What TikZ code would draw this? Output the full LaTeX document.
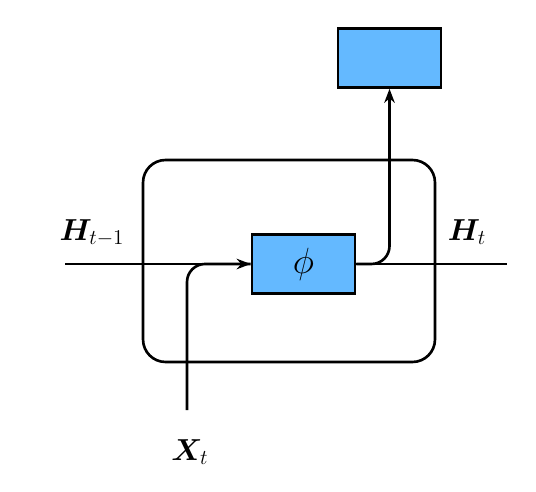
\documentclass[tikz,border=0pt]{standalone}
\usepackage{bm}
\usetikzlibrary{arrows.meta,positioning}
\definecolor{cellblue}{RGB}{100,185,255}

\begin{document}
\begin{tikzpicture}[
  x=0.02cm,
  y=-0.02cm,
  >={Stealth[length=8pt,width=6pt]},
  line width=1.5pt,
  cellbox/.style={draw, rounded corners=0.45cm, minimum width=5.84cm, minimum height=4.04cm, inner sep=0pt},
  layer/.style={draw, fill=cellblue, minimum width=2.06cm, minimum height=1.18cm, inner sep=0pt},
  lbl/.style={font=\fontsize{18}{21}\selectfont, inner sep=0pt},
  link/.style={line width=1.5pt}
]
  \useasboundingbox (0,0) rectangle (536,492);

  \node[cellbox] (cell) at (289,261) {};
  \node[layer] (phi) at (303.5,264) {\fontsize{20}{24}\selectfont$\phi$};
  \node[layer] (out) at (389.5,58) {};

  \coordinate (hin) at (65,264);
  \coordinate (hout) at (507,264);
  \coordinate (xin) at (187,410);

  \draw[link,->] (hin) -- (phi.west);
  \draw[link,rounded corners=0.36cm] (xin) |- (phi.west);
  \draw[link] (phi.east) -- (hout);
  \draw[link,->,rounded corners=0.36cm] (phi.east) -| (out.south);

  \node[lbl] (hprev) at (92,233) {$\bm{H}_{t-1}$};
  \node[lbl] (hnext) at (467,232) {$\bm{H}_{t}$};
  \node[lbl] (xt) at (190,452) {$\bm{X}_{t}$};
\end{tikzpicture}
\end{document}
